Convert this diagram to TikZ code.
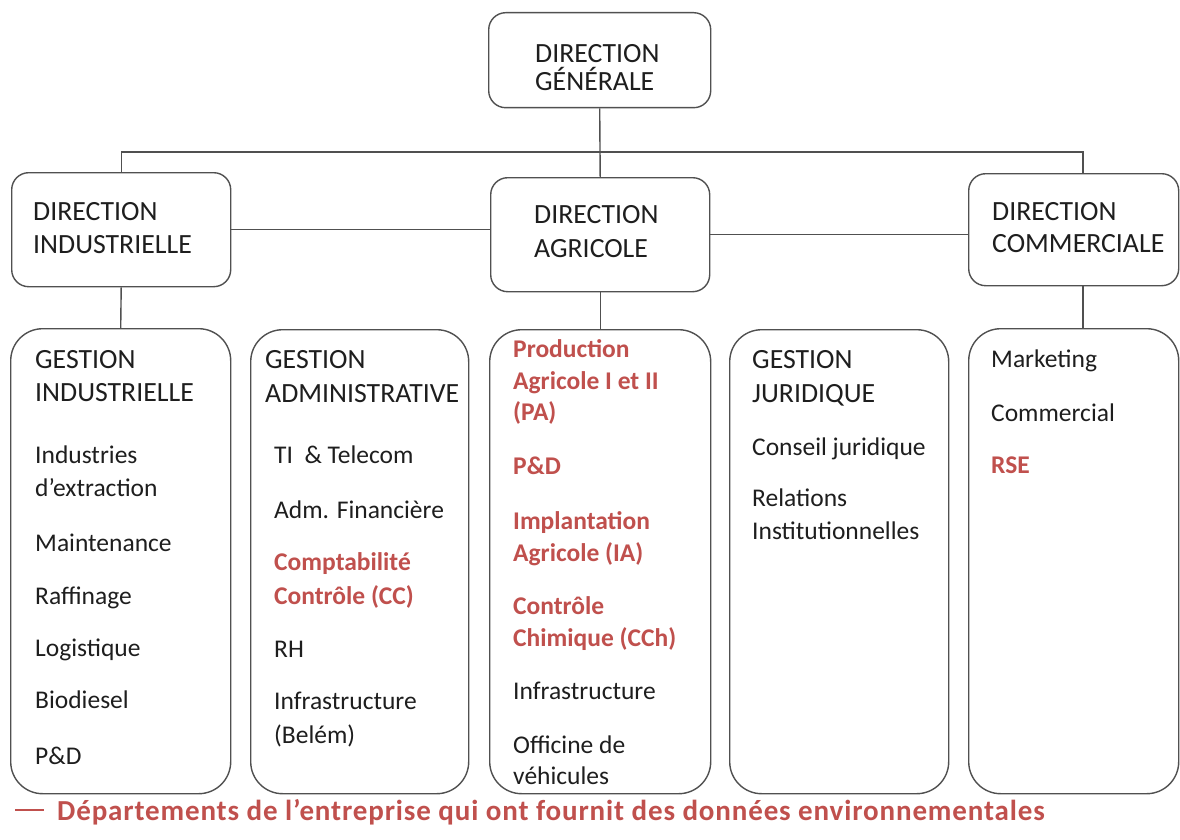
\documentclass[tikz,border=0pt]{standalone}
\usepackage{fontspec}
\setmainfont{Carlito}
\definecolor{envred}{HTML}{C0504D}
\definecolor{boxline}{HTML}{505050}
\definecolor{txt}{HTML}{1E1E1E}
\tikzset{
  box/.style={draw=boxline, line width=1.4pt, rounded corners=17pt, anchor=north west, inner sep=0pt, fill=white},
  lowbox/.style={box, rounded corners=32pt},
  lbl/.style={anchor=base west, inner sep=0pt, text=txt, font=\fontsize{25.5}{30}\selectfont},
  hdr/.style={lbl, font=\fontsize{27.8}{32}\selectfont},
  envtxt/.style={anchor=base west, inner sep=0pt, text=envred, font=\bfseries\fontsize{25.5}{30}\selectfont},
  legtxt/.style={envtxt, font=\bfseries\fontsize{29}{33}\selectfont\addfontfeatures{LetterSpace=3}},
  link/.style={draw=boxline, line width=1.4pt},
}
\begin{document}
\begin{tikzpicture}[x=1pt,y=-1pt]
\useasboundingbox (0,0) rectangle (1180,840);
\fill[white] (0,0) rectangle (1180,840);
% boxes
\node[box, minimum width=222pt, minimum height=95pt] (dg) at (488,12) {};
\node[box, minimum width=219pt, minimum height=114pt] (di) at (11,172) {};
\node[box, minimum width=219pt, minimum height=114pt] (da) at (490,177) {};
\node[box, minimum width=210pt, minimum height=112pt] (dc) at (968,173) {};
\node[lowbox, minimum width=220pt, minimum height=465pt] (g1) at (10,328) {};
\node[lowbox, minimum width=218pt, minimum height=464pt] (g2) at (250,329) {};
\node[lowbox, minimum width=221pt, minimum height=464pt] (g3) at (489,329) {};
\node[lowbox, minimum width=219pt, minimum height=464pt] (g4) at (729,329) {};
\node[lowbox, minimum width=210pt, minimum height=465pt] (g5) at (968,328) {};
% connectors
\coordinate (bus) at (600,152);
\coordinate (cstem) at (1083,152);
\draw[link] (dg.south) -- (da.north);
\draw[link] (di.north) -- (di.north |- bus) -- (cstem) -- (cstem |- dc.north);
\draw[link] (di.east) -- (di.east -| da.west);
\draw[link] (da.east) -- (da.east -| dc.west);
\draw[link] (di.south) -- (g1.north);
\draw[link] (da.south) -- (g3.north);
\coordinate (cstemlow) at (1083,285);
\draw[link] (cstemlow) -- (cstemlow |- g5.north);
% top texts
\node[hdr] (dg1) at (535,63) {DIRECTION};
\node[hdr] (dg2) at (535,91) {GÉNÉRALE};
\node[hdr] (di1) at (33,220) {DIRECTION};
\node[hdr] (di2) at (33,253) {INDUSTRIELLE};
\node[hdr] (da1) at (534,223) {DIRECTION};
\node[hdr] (da2) at (534,257) {AGRICOLE};
\node[hdr] (dc1) at (992,220) {DIRECTION};
\node[hdr] (dc2) at (992,252) {COMMERCIALE};
% box 1
\node[hdr] (a1) at (35,368) {GESTION};
\node[hdr] (a2) at (35,401) {INDUSTRIELLE};
\node[lbl] (a3) at (35,463) {Industries};
\node[lbl] (a4) at (35,496) {d’extraction};
\node[lbl] (a5) at (35,551) {Maintenance};
\node[lbl] (a6) at (35,604) {Raffinage};
\node[lbl] (a7) at (35,656) {Logistique};
\node[lbl] (a8) at (35,708) {Biodiesel};
\node[lbl] (a9) at (35,764) {P\&D};
% box 2
\node[hdr] (b1) at (265,368) {GESTION};
\node[hdr] (b2) at (265,402) {ADMINISTRATIVE};
\node[lbl] (b3) at (274,463) {TI\ \ \& Telecom};
\node[lbl] (b4) at (274,518) {Adm. Financière};
\node[envtxt] (b5) at (274,570) {Comptabilité};
\node[envtxt] (b6) at (274,604) {Contrôle (CC)};
\node[lbl] (b7) at (274,657) {RH};
\node[lbl] (b8) at (274,709) {Infrastructure};
\node[lbl] (b9) at (274,743) {(Belém)};
% box 3
\node[envtxt] (c1) at (513,357) {Production};
\node[envtxt] (c2) at (513,389) {Agricole I et II};
\node[envtxt] (c3) at (513,420) {(PA)};
\node[envtxt] (c4) at (513,474) {P\&D};
\node[envtxt] (c5) at (513,529) {Implantation};
\node[envtxt] (c6) at (513,561) {Agricole (IA)};
\node[envtxt] (c7) at (513,614) {Contrôle};
\node[envtxt] (c8) at (513,646) {Chimique (CCh)};
\node[lbl] (c9) at (513,699) {Infrastructure};
\node[lbl] (c10) at (513,753) {Officine de};
\node[lbl] (c11) at (513,784) {véhicules};
% box 4
\node[hdr] (d1) at (752,368) {GESTION};
\node[hdr] (d2) at (752,402) {JURIDIQUE};
\node[lbl] (d3) at (752,455) {Conseil juridique};
\node[lbl] (d4) at (752,506) {Relations};
\node[lbl] (d5) at (752,539) {Institutionnelles};
% box 5
\node[lbl] (e1) at (991,367) {Marketing};
\node[lbl] (e2) at (991,421) {Commercial};
\node[envtxt] (e3) at (991,473) {RSE};
% legend
\coordinate (lg1) at (15,810);
\coordinate (lg2) at (44,810);
\draw[draw=envred, line width=2.4pt] (lg1) -- (lg2);
\node[legtxt] (leg) at (57,820) {Départements de l’entreprise qui ont fournit des données environnementales};
\end{tikzpicture}
\end{document}
